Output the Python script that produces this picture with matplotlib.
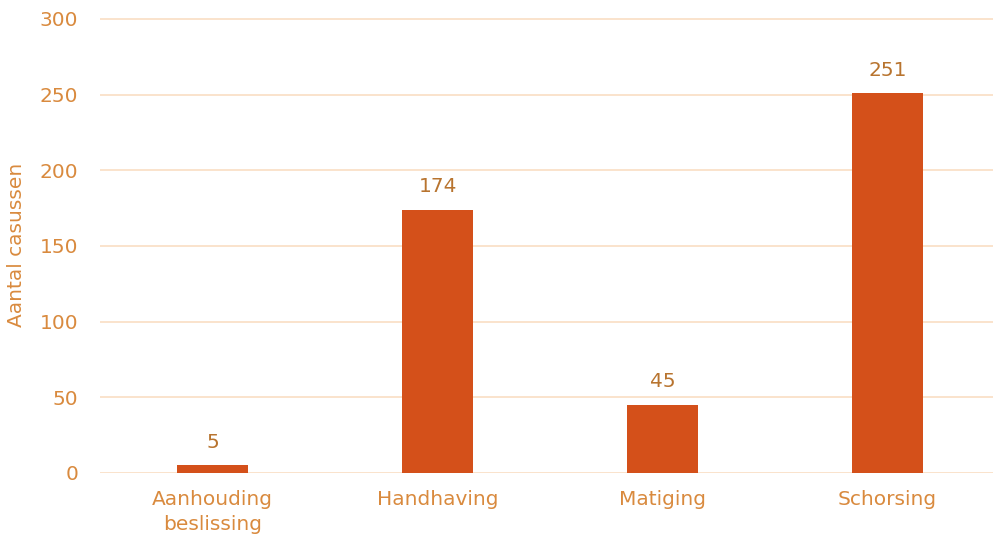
import matplotlib
matplotlib.use("Agg")
import matplotlib.pyplot as plt

categories = ["Aanhouding\nbeslissing", "Handhaving", "Matiging", "Schorsing"]
values = [5, 174, 45, 251]
yticks = [0, 50, 100, 150, 200, 250, 300]
ylabel = "Aantal casussen"

bar_color = "#D4501A"
tick_color = "#D98A3E"
label_color = "#B8742F"
grid_color = "#FAE0C8"

plt.rcParams['font.family'] = ['DejaVu Sans']
fig = plt.figure(figsize=(9.93, 5.41), dpi=100)
ax = fig.add_axes([0.101, 0.1257, 0.899, 0.8392 * 301 / 300])
x = list(range(len(categories)))
ax.bar(x, values, width=0.315, color=bar_color, zorder=3)
for xi, v in zip(x, values):
    ax.text(xi, v + 9, str(v), ha="center", va="bottom", fontsize=14.5, color=label_color)
ax.set_ylim(0, 301)
ax.set_xlim(-0.5, 3.47)
ax.set_yticks(yticks)
ax.set_xticks(x)
ax.set_xticklabels(categories, linespacing=1.45)
ax.tick_params(axis="both", length=0, colors=tick_color, labelsize=14.5)
ax.tick_params(axis="y", pad=16)
ax.tick_params(axis="x", pad=12)
ax.yaxis.grid(True, color=grid_color, linewidth=1.3, zorder=0)
for s in ax.spines.values():
    s.set_visible(False)
ax.set_ylabel(ylabel, color=tick_color, fontsize=14.5, labelpad=10)
fig.savefig("out.png", dpi=100)
